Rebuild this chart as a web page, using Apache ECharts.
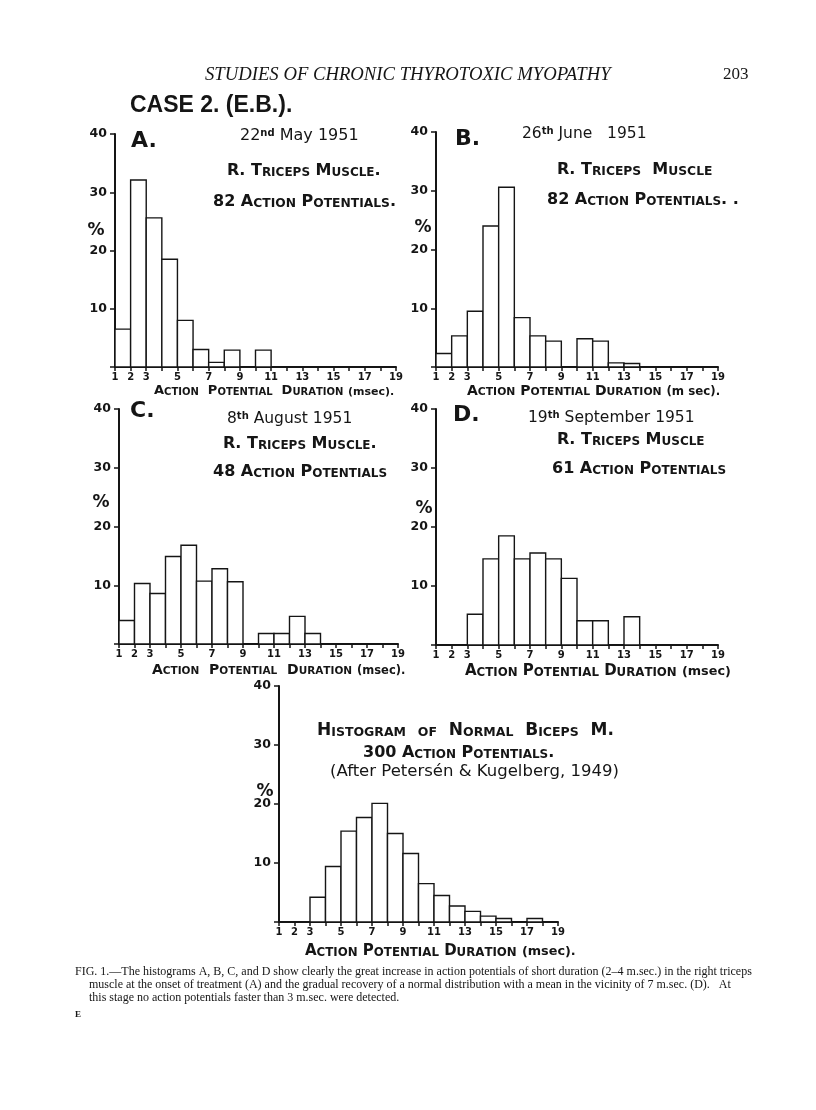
<!DOCTYPE html>
<html><head><meta charset="utf-8">
<script src="https://cdn.jsdelivr.net/npm/echarts@6/dist/echarts.min.js"></script>
<style>html,body{margin:0;padding:0;background:#fff}#c{width:816px;height:1110px}</style>
</head><body><div id="c"></div>
<script>
// ---- data ----
const binStarts = [1,2,3,4,5,6,7,8,9,10,11,12,13,14,15,16,17,18];
const xTickLabels = [1,2,3,5,7,9,11,13,15,17,19];
const yTickLabels = [10,20,30,40];
const valuesA = [6.5,32.1,25.6,18.5,8.0,3.0,0.8,2.9,0,2.9,0,0,0,0,0,0,0,0];
const valuesB = [2.3,5.3,9.5,24.0,30.6,8.4,5.3,4.4,0,4.8,4.4,0.7,0.6,0,0,0,0,0];
const valuesC = [4.0,10.3,8.6,14.9,16.8,10.7,12.8,10.6,0,1.8,1.8,4.7,1.8,0,0,0,0,0];
const valuesD = [0,0,5.2,14.6,18.5,14.6,15.6,14.6,11.3,4.1,4.1,0,4.8,0,0,0,0,0];
const valuesE = [0,0,4.2,9.4,15.4,17.7,20.1,15.0,11.6,6.5,4.5,2.7,1.8,1.0,0.6,0,0.6,0];

const INK = '#151515';
const HAND = '"DejaVu Sans", sans-serif';
const SERIF = '"Liberation Serif", "DejaVu Serif", serif';

const grids = [
  {left:115, top:134, width:281, height:233},
  {left:436, top:132, width:282, height:235},
  {left:119, top:409, width:279, height:235},
  {left:436, top:409, width:282, height:236},
  {left:279, top:686, width:279, height:236}
];
const allValues = [valuesA, valuesB, valuesC, valuesD, valuesE];

function renderBar(params, api){
  const x0 = api.value(0), v = api.value(1);
  if (!v) return null;
  const p0 = api.coord([x0, 0]);
  const p1 = api.coord([x0 + 1, v]);
  return {type:'rect', shape:{x:p0[0], y:p1[1], width:p1[0]-p0[0], height:p0[1]-p1[1]},
    style:{fill:'#fff', stroke:INK, lineWidth:1.4}};
}

// small caps helper: lowercase letters become smaller capitals
function sc(s){
  let out = '';
  for (const ch of s){
    if (ch >= 'a' && ch <= 'z') out += '{s|' + ch.toUpperCase() + '}';
    else out += '{b|' + ch + '}';
  }
  return out;
}
function scRich(big, small){
  return {
    b:{fontSize:big, fontFamily:HAND, fontWeight:'bold', fill:INK, verticalAlign:'bottom'},
    s:{fontSize:small, fontFamily:HAND, fontWeight:'bold', fill:INK, verticalAlign:'bottom'},
    n:{fontSize:small+1, fontFamily:HAND, fontWeight:'bold', fill:INK, verticalAlign:'bottom'},
    m:{fontSize:big, fontFamily:HAND, fill:INK, verticalAlign:'bottom'},
    u:{fontSize:small-2, fontFamily:HAND, fontWeight:'bold', fill:INK, verticalAlign:'top'}
  };
}
function T(x, y, text, opt){
  opt = opt || {};
  return {type:'text', x:x, y:y, silent:true,
    style:Object.assign({text:text, fill:INK, fontFamily:HAND, fontSize:14, fontWeight:'bold',
      textAlign:'left', textVerticalAlign:'middle'}, opt)};
}
function SC(x, y, text, big, small, align){
  return {type:'text', x:x, y:y, silent:true,
    style:{text:text, rich:scRich(big, small), textAlign:align||'left', textVerticalAlign:'middle'}};
}

const graphics = [
  T(205, 75, 'STUDIES OF CHRONIC THYROTOXIC MYOPATHY', {fontFamily:SERIF, fontStyle:'italic', fontWeight:'normal', fontSize:18.7}),
  T(723, 75, '203', {fontFamily:SERIF, fontWeight:'normal', fontSize:17}),
  T(130, 106, 'CASE 2. (E.B.).', {fontFamily:'"Liberation Sans", sans-serif', fontSize:23}),
  // Panel A
  T(131, 141, 'A.', {fontSize:22}),
  SC(240, 136, '{m|22}{u|nd}{m| May 1951}', 16, 12),
  SC(227, 171, sc('R. Triceps Muscle.'), 16, 12),
  SC(213, 202, sc('82 Action Potentials.'), 16, 12.3),
  T(96, 231, '%', {fontSize:17, textAlign:'center'}),
  SC(154, 391, sc('Action  Potential  Duration ') + '{n|(msec).}', 13, 10),
  // Panel B
  T(455, 139, 'B.', {fontSize:22}),
  SC(522, 134, '{m|26}{u|th}{m| June   1951}', 15.5, 12),
  SC(557, 170, sc('R. Triceps  Muscle'), 16, 12.3),
  SC(547, 200, sc('82 Action Potentials. .'), 16, 12),
  T(423, 228, '%', {fontSize:17, textAlign:'center'}),
  SC(467, 391, sc('Action Potential Duration ') + '{n|(m sec).}', 14, 10.8),
  // Panel C
  T(130, 411, 'C.', {fontSize:22}),
  SC(227, 419, '{m|8}{u|th}{m| August 1951}', 15.5, 12),
  SC(223, 444, sc('R. Triceps Muscle.'), 16, 12),
  SC(213, 472, sc('48 Action Potentials'), 16, 12),
  T(101, 503, '%', {fontSize:17, textAlign:'center'}),
  SC(152, 670, sc('Action  Potential  Duration ') + '{n|(msec).}', 14, 10.5),
  // Panel D
  T(453, 415, 'D.', {fontSize:22}),
  SC(528, 418, '{m|19}{u|th}{m| September 1951}', 15.5, 12),
  SC(557, 440, sc('R. Triceps Muscle'), 16, 12),
  SC(552, 469, sc('61 Action Potentials'), 16, 12),
  T(424, 509, '%', {fontSize:17, textAlign:'center'}),
  SC(465, 671, sc('Action Potential Duration ') + '{n|(msec)}', 15, 11.8),
  // Panel E
  SC(317, 731, sc('Histogram  of  Normal  Biceps  M.'), 17, 12.5),
  SC(363, 753, sc('300 Action Potentials.'), 16, 12),
  T(330, 772, '(After Petersén & Kugelberg, 1949)', {fontSize:16.5, fontWeight:'normal'}),
  T(265, 792, '%', {fontSize:17, textAlign:'center'}),
  SC(305, 951, sc('Action Potential Duration ') + '{n|(msec).}', 15, 11.8),
  // caption
  T(75, 972, 'FIG. 1.—The histograms A, B, C, and D show clearly the great increase in action potentials of short duration (2–4 m.sec.) in the right triceps', {fontFamily:SERIF, fontWeight:'normal', fontSize:12}),
  T(89, 985, 'muscle at the onset of treatment (A) and the gradual recovery of a normal distribution with a mean in the vicinity of 7 m.sec. (D).   At', {fontFamily:SERIF, fontWeight:'normal', fontSize:12}),
  T(89, 998, 'this stage no action potentials faster than 3 m.sec. were detected.', {fontFamily:SERIF, fontWeight:'normal', fontSize:12}),
  T(75, 1015, 'E', {fontFamily:SERIF, fontWeight:'bold', fontSize:9})
];

const option = {
  backgroundColor:'#fff',
  animation:false,
  grid: grids,
  xAxis: grids.map((g,i)=>({
    type:'value', gridIndex:i, min:1, max:19, interval:1,
    axisLine:{show:true, onZero:false, lineStyle:{color:INK, width:2}},
    axisTick:{show:true, length:4, lineStyle:{color:INK, width:1.5}},
    axisLabel:{show:true, margin:5, color:INK, fontSize:10, fontWeight:'bold', fontFamily:HAND,
      showMinLabel:true, showMaxLabel:true,
      formatter:v => xTickLabels.indexOf(v) >= 0 ? String(v) : ''},
    splitLine:{show:false}
  })),
  yAxis: grids.map((g,i)=>({
    type:'value', gridIndex:i, min:0, max:40, interval:10,
    axisLine:{show:true, lineStyle:{color:INK, width:2}},
    axisTick:{show:true, length:5, lineStyle:{color:INK, width:1.5}},
    axisLabel:{show:true, margin:8, color:INK, fontSize:12.5, fontWeight:'bold', fontFamily:HAND,
      formatter:v => yTickLabels.indexOf(v) >= 0 ? String(v) : ''},
    splitLine:{show:false}
  })),
  series: allValues.map((vals,i)=>({
    type:'custom', xAxisIndex:i, yAxisIndex:i, renderItem:renderBar, clip:false,
    data: binStarts.map((s,k)=>[s, vals[k]])
  })),
  graphic: graphics
};
const chart = echarts.init(document.getElementById('c'), null, {width:816, height:1110, renderer:'canvas'});
chart.setOption(option);
</script>
</body></html>
